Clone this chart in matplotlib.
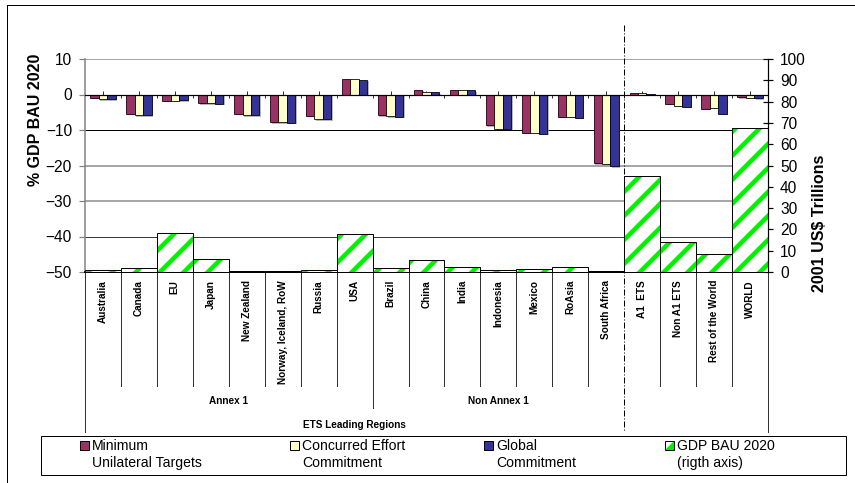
import numpy as np
import matplotlib
matplotlib.use("Agg")
import matplotlib.pyplot as plt
from matplotlib import patheffects
from matplotlib.patches import Rectangle, Polygon
from matplotlib.lines import Line2D
import matplotlib.transforms as mtransforms

plt.rcParams['font.family'] = ['Liberation Sans', 'DejaVu Sans']
plt.rcParams['hatch.linewidth'] = 4.5

regions = ["Australia", "Canada", "EU", "Japan", "New Zealand",
           "Norway, Iceland, RoW", "Russia", "USA", "Brazil", "China",
           "India", "Indonesia", "Mexico", "RoAsia", "South Africa",
           "A1  ETS", "Non A1 ETS", "Rest of the World", "WORLD"]

min_unilateral = [-0.9, -5.4, -1.8, -2.4, -5.4, -7.8, -6.0, 4.5, -5.8, 1.3,
                  1.4, -8.6, -10.8, -6.3, -19.3, 0.5, -2.6, -4.0, -0.8]
concurred = [-1.3, -5.8, -1.8, -2.4, -5.8, -7.8, -7.0, 4.3, -6.1, 0.8,
             1.4, -9.7, -10.8, -6.3, -19.6, 0.3, -3.2, -3.7, -0.9]
global_commit = [-1.3, -5.9, -1.6, -2.6, -5.9, -8.0, -7.0, 4.1, -6.3, 0.7,
                 1.2, -9.7, -11.0, -6.5, -20.2, 0.2, -3.4, -5.4, -1.1]
gdp_bau = [1.1, 1.9, 18.3, 6.1, 0.1, 0.5, 1.1, 17.7, 1.7, 5.6,
           2.2, 0.8, 1.4, 2.2, 0.4, 45.3, 14.1, 8.3, 67.5]

groups = ["Annex 1", "Non Annex 1"]
group_span = [(0, 7), (8, 14)]
super_group = "ETS Leading Regions"

series_names = ["Minimum\nUnilateral Targets", "Concurred Effort\nCommitment",
                "Global\nCommitment", "GDP BAU 2020\n(rigth axis)"]
colors = ["#993366", "#FFFFCC", "#333399"]
green = "#00F000"

W, H = 855, 483
fig = plt.figure(figsize=(W / 72, H / 72), dpi=72)


def fx(px):
    return px / W


def fy(py):
    return 1 - py / H


ax1 = fig.add_axes([fx(85), fy(272), fx(768) - fx(85), fy(59) - fy(272)])
ax2 = ax1.twinx()
ax1.patch.set_visible(False)
ax2.patch.set_visible(False)

x = np.arange(len(regions))
n = len(regions)
bw = 0.235
shadow = [patheffects.SimplePatchShadow(offset=(1.5, -1.5), shadow_rgbFace="#9a9a9a", alpha=0.7),
          patheffects.Normal()]
for i, vals in enumerate([min_unilateral, concurred, global_commit]):
    bars = ax1.bar(x + (i - 1) * bw, vals, bw, color=colors[i], edgecolor="black",
                   linewidth=0.8, zorder=3)
    for b in bars:
        b.set_path_effects(shadow)

# GDP bars: hatch first, then black outline
ax2.bar(x, gdp_bau, 1.0, facecolor="white", edgecolor=green, hatch="/", linewidth=0, zorder=2)
ax2.bar(x, gdp_bau, 1.0, fill=False, edgecolor="black", linewidth=1.0, zorder=3)

ax1.set_xlim(-0.5, n - 0.5)
ax1.set_ylim(-50, 10)
ax2.set_ylim(0, 100)
ax1.set_yticks(np.arange(-50, 11, 10))
ax2.set_yticks(np.arange(0, 101, 10))

# grid lines
grid_cols = {10: "#8a8a8a", -10: "#000000", -20: "#8a8a8a", -30: "#8a8a8a", -40: "#3a3a3a"}
for yv, c in grid_cols.items():
    ax1.axhline(yv, color=c, lw=1.5 if c == "#8a8a8a" else 1.0, zorder=1)
ax1.axhline(0, color="black", lw=1.2, zorder=4)
ax1.vlines(x[:-1] + 0.5, -0.85, 0, color="black", lw=0.8, zorder=4)
ax1.vlines(x, 0, 0.85, color="black", lw=0.8, zorder=2)

for s in ["top", "right"]:
    ax1.spines[s].set_visible(False)
for s in ["top", "left", "bottom"]:
    ax2.spines[s].set_visible(False)
ax1.spines["left"].set_color("#808080")
ax1.spines["left"].set_linewidth(1.5)
ax1.spines["bottom"].set_linewidth(2)
ax2.spines["right"].set_linewidth(1.2)

ax1.tick_params(axis="y", length=6, width=1.2, color="#808080", labelsize=15.5, pad=7)
ax2.tick_params(axis="y", direction="inout", length=10, width=1.2, labelsize=15.5, pad=7)
ax1.set_xticks(x)
ax1.set_xticklabels(regions, rotation=90, fontsize=10, fontweight="bold")
ax1.tick_params(axis="x", length=0, pad=8)

ax1.set_ylabel("% GDP BAU 2020", fontsize=16, fontweight="bold", va="center")
ax1.yaxis.set_label_coords(-0.073, 0.714)
ax2.set_ylabel("2001 US$ Trillions", fontsize=16, fontweight="bold", va="center", rotation=90)
ax2.yaxis.set_label_coords(1.076, 0.228)

# category separators and group labels below the axis
tr = mtransforms.blended_transform_factory(ax1.transData, fig.transFigure)
for b in np.arange(n + 1) - 0.5:
    if b in (-0.5, n - 0.5):
        y0 = 432
    elif b == 7.5:
        y0 = 408
    elif b == 14.5:
        continue
    else:
        y0 = 386
    ax1.add_line(Line2D([b, b], [fy(272), fy(y0)], transform=tr, color="#333333",
                        lw=1, clip_on=False))
ax1.add_line(Line2D([14.5, 14.5], [fy(25), fy(432)], transform=tr, color="black", lw=1,
                    linestyle=(0, (6, 2, 1, 2)), clip_on=False))

for name, (a, b) in zip(groups, group_span):
    ax1.text((a + b) / 2, fy(401), name, transform=tr, ha="center", va="center",
             fontsize=10, fontweight="bold")
ax1.text(7, fy(425), super_group, transform=tr, ha="center", va="center",
         fontsize=10, fontweight="bold")

# outer chart frame
fig.add_artist(Line2D([fx(7), fx(7)], [fy(5), 0], color="black", lw=1))
fig.add_artist(Line2D([fx(7), 1], [fy(5), fy(5)], color="black", lw=1))

# legend box
fig.add_artist(Rectangle((fx(41), fy(475)), fx(846) - fx(41), fy(436) - fy(475),
                         transform=fig.transFigure, facecolor="white", edgecolor="black", lw=1))
leg_x = [80, 290, 484, 665]
for i, (lx, name) in enumerate(zip(leg_x, series_names)):
    if i < 3:
        fig.add_artist(Rectangle((fx(lx), fy(450)), fx(9), 9 / H, transform=fig.transFigure,
                                 facecolor=colors[i], edgecolor="black", lw=1))
    else:
        fig.add_artist(Rectangle((fx(lx), fy(450)), fx(9), 9 / H, transform=fig.transFigure,
                                 facecolor="white", edgecolor="none"))
        fig.add_artist(Polygon([(fx(lx), fy(450)), (fx(lx + 9), fy(450)), (fx(lx + 9), fy(441))],
                               closed=True, transform=fig.transFigure,
                               facecolor=green, edgecolor="none"))
        fig.add_artist(Rectangle((fx(lx), fy(450)), fx(9), 9 / H, transform=fig.transFigure,
                                 fill=False, edgecolor="black", lw=1))
    fig.text(fx(lx + 12), fy(439), name, ha="left", va="top", fontsize=14, linespacing=1.25)

fig.savefig("out.png", dpi=72)
